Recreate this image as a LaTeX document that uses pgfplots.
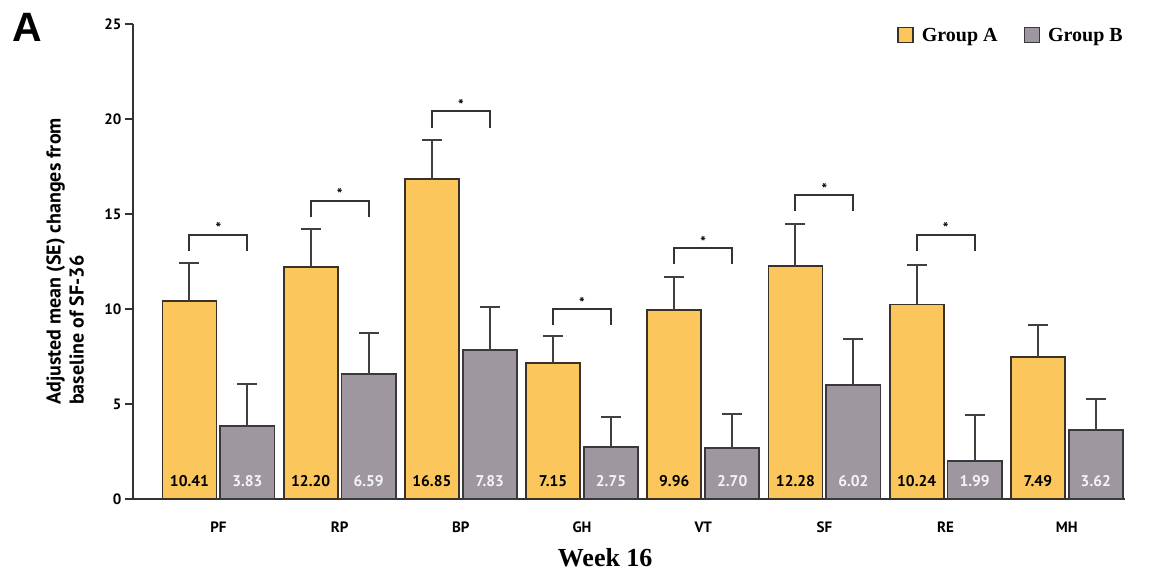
\documentclass[border=0pt]{standalone}
\usepackage{fontspec}
\setmainfont{PT Sans}
\newfontfamily\serifb{Liberation Serif}
\newfontfamily\hsans{Liberation Sans}
\usepackage{pgfplots}
\pgfplotsset{compat=1.18}
\definecolor{ya}{HTML}{FBC65C}
\definecolor{gb}{HTML}{9E97A0}
\definecolor{edgeA}{HTML}{3A3226}
\definecolor{edgeB}{HTML}{3A383C}
\tikzset{ast/.style={font=\fontsize{15}{15}\selectfont\bfseries, inner sep=0pt, anchor=base},
  vla/.style={font=\fontsize{15.5}{15.5}\selectfont\bfseries, text=black},
  vlb/.style={font=\fontsize{15.5}{15.5}\selectfont\bfseries, text=white!92!gray}}
\begin{document}
\begin{tikzpicture}
\begin{axis}[
  scale only axis, width=992pt, height=475pt,
  xmin=-0.705, xmax=7.48, ymin=0, ymax=25,
  axis x line=bottom, axis y line=left,
  axis line style={-, line width=1.8pt, draw=black!80},
  ytick={0,5,...,25}, y tick style={line width=1.5pt, draw=black!80},
  tick align=outside, major tick length=8pt,
  xtick={0,...,7}, xticklabels={PF,RP,BP,GH,VT,SF,RE,MH},
  x tick style={draw=none},
  tick label style={font=\fontsize{15}{15}\selectfont\bfseries},
  xticklabel style={yshift=-11pt},
  /pgf/number format/assume math mode=true,
  xlabel={Week 16},
  xlabel style={font=\serifb\bfseries\fontsize{26}{26}\selectfont, at={(axis description cs:0.476,0)}, anchor=center, yshift=-59pt},
  ylabel={Adjusted mean (SE) changes from\\baseline of SF-36},
  ylabel style={font=\bfseries\fontsize{20}{23}\selectfont, align=left, at={(axis description cs:-0.0685,0.5)}, anchor=center},
  legend style={at={(1.003,1)}, anchor=north east, draw=none, fill=none, legend columns=2,
    font=\serifb\bfseries\fontsize{20}{20}\selectfont,
    /tikz/every odd column/.style={column sep=6pt},
    /tikz/every even column/.style={column sep=24pt}},
  clip=false,
]
\addplot[forget plot, ybar, bar width=0.446, bar shift=0, fill=ya, draw=edgeA, line width=1.8pt,
  error bars/.cd, y dir=plus, y explicit, error mark=|,
  error bar style={line width=2pt, draw=black!75},
  error mark options={mark size=10pt, line width=2pt, draw=black!75}]
  table[x=x, y=y, y error=e]{
x y e
-0.239 10.41 2.00
0.761 12.20 2.00
1.761 16.85 2.05
2.761 7.15 1.45
3.761 9.96 1.75
4.761 12.28 2.20
5.761 10.24 2.10
6.761 7.49 1.65
};
\addplot[forget plot, ybar, bar width=0.446, bar shift=0, fill=gb, draw=edgeB, line width=1.8pt,
  error bars/.cd, y dir=plus, y explicit, error mark=|,
  error bar style={line width=2pt, draw=black!75},
  error mark options={mark size=10pt, line width=2pt, draw=black!75}]
  table[x=x, y=y, y error=e]{
x y e
0.239 3.83 2.20
1.239 6.59 2.15
2.239 7.83 2.30
3.239 2.75 1.55
4.239 2.70 1.75
5.239 6.02 2.40
6.239 1.99 2.45
7.239 3.62 1.65
};
% significance brackets
\addplot[forget plot, line width=2pt, draw=black!80] coordinates {(-0.239,13.05) (-0.239,13.9) (0.239,13.9) (0.239,13.05)};
\addplot[forget plot, line width=2pt, draw=black!80] coordinates {(0.761,14.85) (0.761,15.7) (1.239,15.7) (1.239,14.85)};
\addplot[forget plot, line width=2pt, draw=black!80] coordinates {(1.761,19.55) (1.761,20.4) (2.239,20.4) (2.239,19.55)};
\addplot[forget plot, line width=2pt, draw=black!80] coordinates {(2.761,9.15) (2.761,10.0) (3.239,10.0) (3.239,9.15)};
\addplot[forget plot, line width=2pt, draw=black!80] coordinates {(3.761,12.35) (3.761,13.2) (4.239,13.2) (4.239,12.35)};
\addplot[forget plot, line width=2pt, draw=black!80] coordinates {(4.761,15.15) (4.761,16.0) (5.239,16.0) (5.239,15.15)};
\addplot[forget plot, line width=2pt, draw=black!80] coordinates {(5.761,13.05) (5.761,13.9) (6.239,13.9) (6.239,13.05)};
\node[ast] at (axis cs:0,13.95) {*};
\node[ast] at (axis cs:1,15.75) {*};
\node[ast] at (axis cs:2,20.45) {*};
\node[ast] at (axis cs:3,10.05) {*};
\node[ast] at (axis cs:4,13.25) {*};
\node[ast] at (axis cs:5,16.05) {*};
\node[ast] at (axis cs:6,13.95) {*};
% value labels
\node[vla] at (axis cs:-0.239,0.95) {10.41};
\node[vla] at (axis cs:0.761,0.95) {12.20};
\node[vla] at (axis cs:1.761,0.95) {16.85};
\node[vla] at (axis cs:2.761,0.95) {7.15};
\node[vla] at (axis cs:3.761,0.95) {9.96};
\node[vla] at (axis cs:4.761,0.95) {12.28};
\node[vla] at (axis cs:5.761,0.95) {10.24};
\node[vla] at (axis cs:6.761,0.95) {7.49};
\node[vlb] at (axis cs:0.239,0.95) {3.83};
\node[vlb] at (axis cs:1.239,0.95) {6.59};
\node[vlb] at (axis cs:2.239,0.95) {7.83};
\node[vlb] at (axis cs:3.239,0.95) {2.75};
\node[vlb] at (axis cs:4.239,0.95) {2.70};
\node[vlb] at (axis cs:5.239,0.95) {6.02};
\node[vlb] at (axis cs:6.239,0.95) {1.99};
\node[vlb] at (axis cs:7.239,0.95) {3.62};
\addlegendimage{legend image code/.code={\draw[fill=ya, draw=edgeA, line width=1.5pt] (0pt,-7pt) rectangle (15pt,8pt);}}
\addlegendentry{Group A}
\addlegendimage{legend image code/.code={\draw[fill=gb, draw=edgeB, line width=1.5pt] (0pt,-7pt) rectangle (15pt,8pt);}}
\addlegendentry{Group B}
\coordinate (ll) at (rel axis cs:0,0);
\coordinate (ur) at (rel axis cs:1,1);
\coordinate (tl) at (rel axis cs:0,1);
\end{axis}
\node[font=\hsans\bfseries\fontsize{41}{41}\selectfont, inner sep=0pt, anchor=base west] at ([shift={(-121pt,-18pt)}]tl) {A};
\pgfresetboundingbox
\path ([shift={(-133pt,-76pt)}]ll) rectangle ([shift={(31pt,24pt)}]ur);
\end{tikzpicture}
\end{document}
